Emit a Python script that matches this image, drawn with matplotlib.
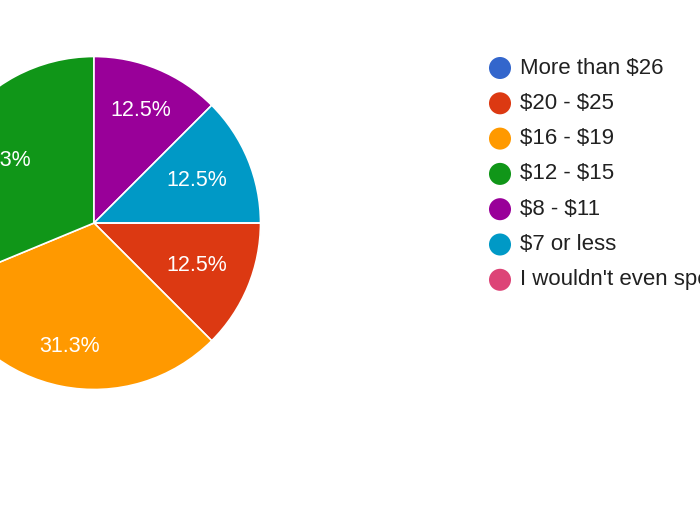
import matplotlib
matplotlib.use("Agg")
import matplotlib.pyplot as plt
import numpy as np

# responses per price bracket (legend order)
labels = ["More than \\$26", "\\$20 - \\$25", "\\$16 - \\$19", "\\$12 - \\$15",
          "\\$8 - \\$11", "\\$7 or less", "I wouldn't even spend a dollar"]
counts = [0, 2, 5, 5, 2, 2, 0]
colors = ["#3366CC", "#DC3912", "#FF9900", "#109618",
          "#990099", "#0099C6", "#DD4477"]

plt.rcParams["font.family"] = ["Liberation Sans", "DejaVu Sans"]

W, H = 700, 525
fig = plt.figure(figsize=(7, 5.25), dpi=100)

# pie placement in pixels (centre partly off the left edge)
cx, cy, r = 94, 223, 166.5
ax = fig.add_axes([(cx - r) / W, (H - cy - r) / H, 2 * r / W, 2 * r / H])

total = sum(counts)
wedges, _ = ax.pie(
    counts, colors=colors, startangle=0, counterclock=False, radius=1,
    wedgeprops=dict(edgecolor="white", linewidth=1.2),
)
ax.set_xlim(-1, 1)
ax.set_ylim(-1, 1)
ax.set_aspect("equal")
ax.axis("off")

# percentage labels, google-style placement (slightly further out on some)
label_r = [0, 0.67, 0.755, 0.675, 0.73, 0.67, 0]
for w, c, lr in zip(wedges, counts, label_r):
    if c == 0:
        continue
    mid = np.deg2rad((w.theta1 + w.theta2) / 2)
    pct = round(c / total * 100 + 1e-9, 1)
    ax.text(lr * np.cos(mid), lr * np.sin(mid), f"{pct}%", color="white",
            fontsize=15.5, ha="center", va="center", clip_on=False)

# legend drawn in pixel space
lax = fig.add_axes([0, 0, 1, 1])
lax.set_xlim(0, W)
lax.set_ylim(H, 0)
lax.axis("off")
y0, step = 68, 35.3
for i, (lab, col) in enumerate(zip(labels, colors)):
    y = y0 + i * step
    lax.scatter([500], [y], s=22 ** 2 * 0.52, color=col, edgecolors="none")
    lax.text(520, y, lab, fontsize=16, color="#212121", va="center", ha="left")

fig.savefig("out.png", dpi=100)
